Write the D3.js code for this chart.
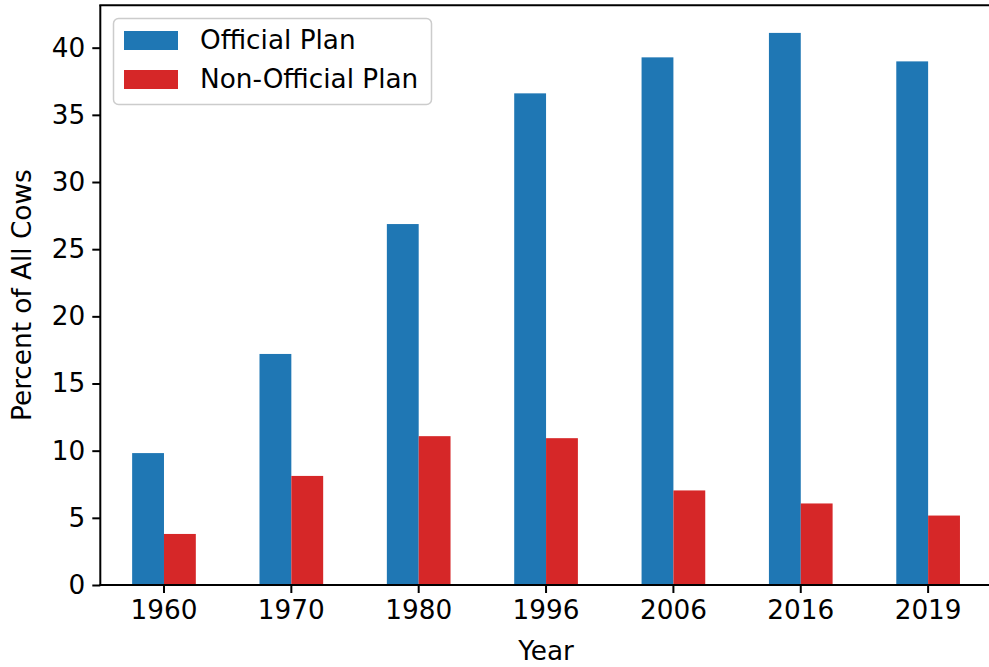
<!DOCTYPE html>
<html><head><meta charset="utf-8">
<script src="https://cdn.jsdelivr.net/npm/d3@7"></script>
<style>
html,body{margin:0;padding:0;background:#fff;}
svg text{font-family:"DejaVu Sans",sans-serif;fill:#000;}
</style></head>
<body><svg id="chart" width="989" height="667"></svg>
<script>
const years = ["1960","1970","1980","1996","2006","2016","2019"];
const official = [9.82, 17.2, 26.87, 36.6, 39.28, 41.1, 38.98];
const nonOfficial = [3.8, 8.12, 11.08, 10.93, 7.04, 6.07, 5.17];
const seriesNames = ["Official Plan", "Non-Official Plan"];
const colors = ["#1f77b4", "#d62728"];
const yTicks = [0,5,10,15,20,25,30,35,40];

const svg = d3.select("#chart");
const fs = 26.3;
const L = 100.3, R = 991.8, T = 5.3, B = 585;
const x = d3.scaleBand().domain(years).range([L, R]).paddingInner(0.5).paddingOuter(0.25);
const ymax = d3.max(official.concat(nonOfficial)) * 1.05;
const y = d3.scaleLinear().domain([0, ymax]).range([B, T]);
const bw = x.bandwidth()/2;

const g = svg.append("g");
const series = [official, nonOfficial];
series.forEach((vals, si) => {
  g.selectAll(".bar"+si).data(vals).enter().append("rect")
    .attr("x", (d,i) => x(years[i]) + si*bw)
    .attr("y", d => y(d))
    .attr("width", bw)
    .attr("height", d => B - y(d))
    .attr("fill", colors[si]);
});

// axes
const xAxis = d3.axisBottom(x).tickSize(8).tickPadding(7);
const xg = svg.append("g").attr("transform", `translate(0,${B})`).call(xAxis);
xg.select(".domain").remove();
xg.selectAll("line").attr("stroke","#000").attr("stroke-width",2);
xg.selectAll("text").attr("font-size", fs).attr("font-family","DejaVu Sans");

const yAxis = d3.axisLeft(y).tickValues(yTicks).tickSize(8).tickPadding(7);
const yg = svg.append("g").attr("transform", `translate(${L},0)`).call(yAxis);
yg.select(".domain").remove();
yg.selectAll("line").attr("stroke","#000").attr("stroke-width",2);
yg.selectAll("text").attr("font-size", fs).attr("font-family","DejaVu Sans");

// spines
const sp = svg.append("g").attr("stroke","#000").attr("stroke-width",2).attr("fill","none");
sp.append("line").attr("x1",L).attr("x2",L).attr("y1",T).attr("y2",B+1);
sp.append("line").attr("x1",L-1).attr("x2",R).attr("y1",B).attr("y2",B);
sp.append("line").attr("x1",L-1).attr("x2",R).attr("y1",T).attr("y2",T);
sp.append("line").attr("x1",R).attr("x2",R).attr("y1",T).attr("y2",B);

// labels
svg.append("text").attr("x", (L+R)/2).attr("y", 660).attr("text-anchor","middle")
  .attr("font-size", fs).text("Year");
svg.append("text").attr("transform", `translate(31,${(T+B)/2}) rotate(-90)`)
  .attr("text-anchor","middle").attr("font-size", fs).text("Percent of All Cows");

// legend
const lg = svg.append("g");
lg.append("rect").attr("x",113.5).attr("y",18.5).attr("width",318).attr("height",86)
  .attr("rx",5).attr("fill","#fff").attr("fill-opacity",0.8).attr("stroke","#ccc").attr("stroke-width",1.5);
seriesNames.forEach((n, i) => {
  const yy = 31 + i*39;
  lg.append("rect").attr("x",124).attr("y",yy).attr("width",54).attr("height",19).attr("fill",colors[i]);
  lg.append("text").attr("x",200).attr("y",yy+18).attr("font-size",fs).text(n);
});
</script>
</body></html>
